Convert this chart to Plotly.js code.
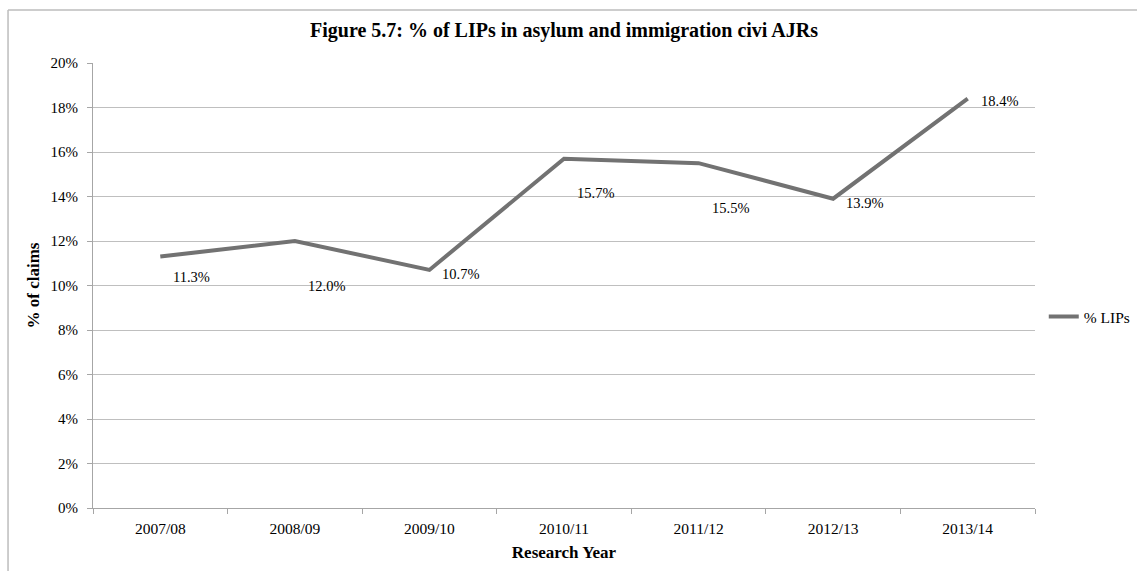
<!DOCTYPE html>
<html>
<head>
<meta charset="utf-8">
<script src="https://cdn.plot.ly/plotly-3.0.1.min.js"></script>
<style>html,body{margin:0;padding:0;background:#fff;}#chart{width:1137px;height:571px;}</style>
</head>
<body>
<div id="chart"></div>
<script>
// Data
const years = ["2007/08", "2008/09", "2009/10", "2010/11", "2011/12", "2012/13", "2013/14"];
const lipPercent = [11.3, 12.0, 10.7, 15.7, 15.5, 13.9, 18.4];
const yTickVals = [0, 2, 4, 6, 8, 10, 12, 14, 16, 18, 20];
const yTickText = ["0%", "2%", "4%", "6%", "8%", "10%", "12%", "14%", "16%", "18%", "20%"];

// Label placement (styling only): vertical drop of each data label in px
const labelDrop = [20, 45, 4, 34, 45, 4, 2];

const FONT = "Liberation Serif, Times New Roman, serif";

const trace = {
  x: years,
  y: lipPercent,
  type: "scatter",
  mode: "lines",
  name: "% LIPs",
  line: {color: "#727272", width: 4},
  hoverinfo: "x+y"
};

const annotations = years.map((yr, i) => ({
  x: yr, y: lipPercent[i], xref: "x", yref: "y",
  text: lipPercent[i].toFixed(1) + "%",
  showarrow: false,
  xanchor: "left", yanchor: "middle",
  xshift: 11, yshift: -labelDrop[i],
  font: {family: FONT, size: 14.5, color: "#000"}
}));

const layout = {
  width: 1137, height: 571,
  margin: {l: 93, r: 102, t: 63, b: 63},
  paper_bgcolor: "#fff", plot_bgcolor: "#fff",
  font: {family: FONT, size: 15, color: "#000"},
  title: {
    text: "<b>Figure 5.7: % of LIPs in asylum and immigration civi AJRs</b>",
    font: {family: FONT, size: 20, color: "#000"},
    x: 0.5, xanchor: "center", y: 0.948, yanchor: "middle", xref: "paper", yref: "container"
  },
  xaxis: {
    type: "category",
    range: [-0.5, years.length - 0.5],
    showgrid: false,
    showline: true, linecolor: "#a6a6a6", linewidth: 1,
    ticks: "outside", ticklen: 5, tickcolor: "#a6a6a6", tickson: "boundaries",
    ticklabelstandoff: 6,
    tickfont: {family: FONT, size: 15.5, color: "#000"},
    title: {text: "<b>Research Year</b>", font: {family: FONT, size: 17, color: "#000"}, standoff: 10},
    automargin: false,
    fixedrange: true
  },
  yaxis: {
    range: [0, 20],
    tickvals: yTickVals, ticktext: yTickText,
    showgrid: true, gridcolor: "#bfbfbf", gridwidth: 1,
    showline: true, linecolor: "#a6a6a6", linewidth: 1,
    ticks: "outside", ticklen: 5, tickcolor: "#a6a6a6",
    ticklabelstandoff: 6,
    zeroline: false,
    tickfont: {family: FONT, size: 15, color: "#000"},
    title: {text: "<b>% of claims</b>", font: {family: FONT, size: 17, color: "#000"}, standoff: 6},
    automargin: false,
    fixedrange: true
  },
  showlegend: true,
  legend: {
    xref: "container", yref: "container",
    x: 0.918, xanchor: "left", y: 0.445, yanchor: "middle",
    font: {family: FONT, size: 15.5, color: "#000"},
    itemwidth: 30, bgcolor: "rgba(0,0,0,0)", borderwidth: 0
  },
  annotations: annotations,
  shapes: [
    {type: "line", xref: "paper", yref: "paper", x0: -0.0902, x1: -0.0902, y0: 1.1191, y1: -0.2, line: {color: "#bdbdbd", width: 1.5}},
    {type: "line", xref: "paper", yref: "paper", x0: -0.0902, x1: 1.12, y0: 1.1191, y1: 1.1191, line: {color: "#bdbdbd", width: 1.5}}
  ]
};

Plotly.newPlot("chart", [trace], layout, {displayModeBar: false, staticPlot: false});
</script>
</body>
</html>
